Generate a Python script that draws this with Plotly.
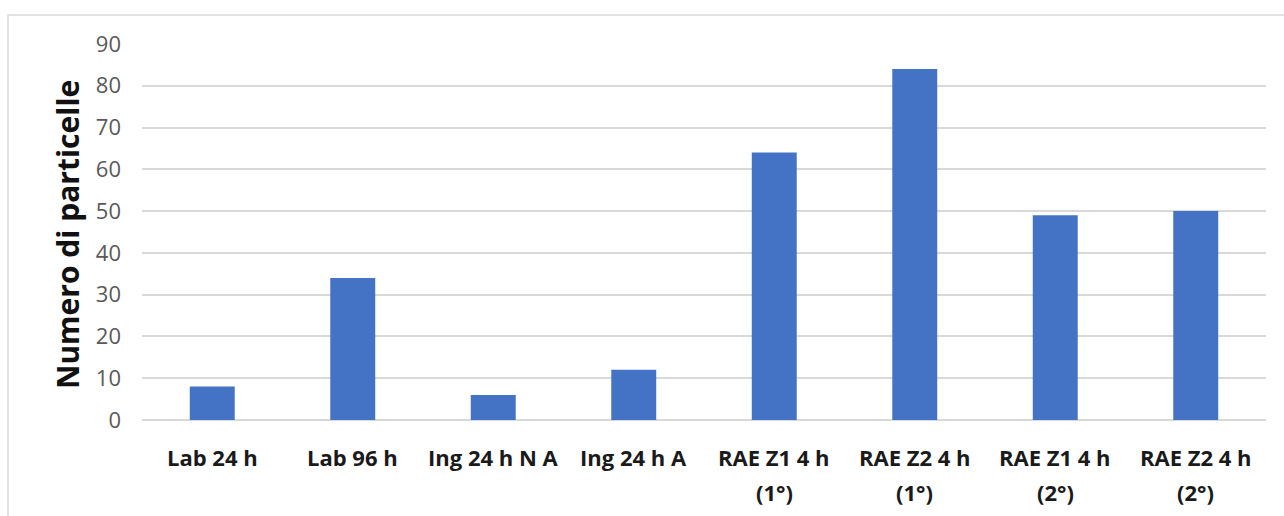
import plotly.graph_objects as go

# Particle counts per sampling condition
categories = [
    "Lab 24 h",
    "Lab 96 h",
    "Ing 24 h N A",
    "Ing 24 h A",
    "RAE Z1 4 h (1°)",
    "RAE Z2 4 h (1°)",
    "RAE Z1 4 h (2°)",
    "RAE Z2 4 h (2°)",
]
counts = [8, 34, 6, 12, 64, 84, 49, 50]
y_ticks = [0, 10, 20, 30, 40, 50, 60, 70, 80, 90]

W, H = 1284, 516
PLOT_L, PLOT_R, PLOT_T, PLOT_B = 142, 1266, 44, 420
FONT = "Open Sans"


def px_to_paper_x(px):
    return (px - PLOT_L) / (PLOT_R - PLOT_L)


def px_to_paper_y(py):
    return (PLOT_B - py) / (PLOT_B - PLOT_T)


fig = go.Figure(
    go.Bar(
        x=categories,
        y=counts,
        marker=dict(color="#4472C4", line=dict(width=0)),
        hoverinfo="x+y",
    )
)

# Category labels, split over two lines where the name has a qualifier
annotations = []
for cat in categories:
    if "(" in cat:
        idx = cat.index("(")
        lines = [cat[:idx].strip(), cat[idx:]]
    else:
        lines = [cat]
    for i, line in enumerate(lines):
        annotations.append(
            dict(
                x=cat, xref="x",
                y=px_to_paper_y(457 + 35 * i), yref="paper",
                text=line, showarrow=False,
                xanchor="center", yanchor="middle",
                font=dict(family=FONT, size=22, color="#1a1a1a", weight="bold"),
            )
        )

# Vertical axis title
annotations.append(
    dict(
        x=px_to_paper_x(67), xref="paper",
        y=px_to_paper_y(235), yref="paper",
        text="Numero di particelle", textangle=-90, showarrow=False,
        xanchor="center", yanchor="middle",
        font=dict(family=FONT, size=30, color="#111111", weight="bold"),
    )
)

fig.update_layout(
    width=W, height=H,
    margin=dict(l=PLOT_L, r=W - PLOT_R, t=PLOT_T, b=H - PLOT_B, pad=0),
    paper_bgcolor="white",
    plot_bgcolor="white",
    bargap=0.68,
    showlegend=False,
    annotations=annotations,
    font=dict(family=FONT),
    shapes=[
        # light chart-area frame
        dict(
            type="rect", xref="paper", yref="paper", layer="below",
            x0=px_to_paper_x(8), x1=px_to_paper_x(1300),
            y0=px_to_paper_y(540), y1=px_to_paper_y(15),
            line=dict(color="#D9D9D9", width=1.5),
            fillcolor="rgba(0,0,0,0)",
        )
    ],
)

fig.update_xaxes(
    type="category",
    showticklabels=False,
    showgrid=False,
    showline=False,
    zeroline=False,
    ticks="",
)

fig.update_yaxes(
    range=[0, 90],
    tickvals=y_ticks,
    ticktext=[str(v) for v in y_ticks],
    tickfont=dict(family=FONT, size=22, color="#595959"),
    ticklabelstandoff=20,
    showgrid=True,
    gridcolor="#D9D9D9",
    gridwidth=1.5,
    zeroline=True,
    zerolinecolor="#D9D9D9",
    zerolinewidth=1.5,
    showline=False,
    ticks="",
)

fig.write_html("out.html")
